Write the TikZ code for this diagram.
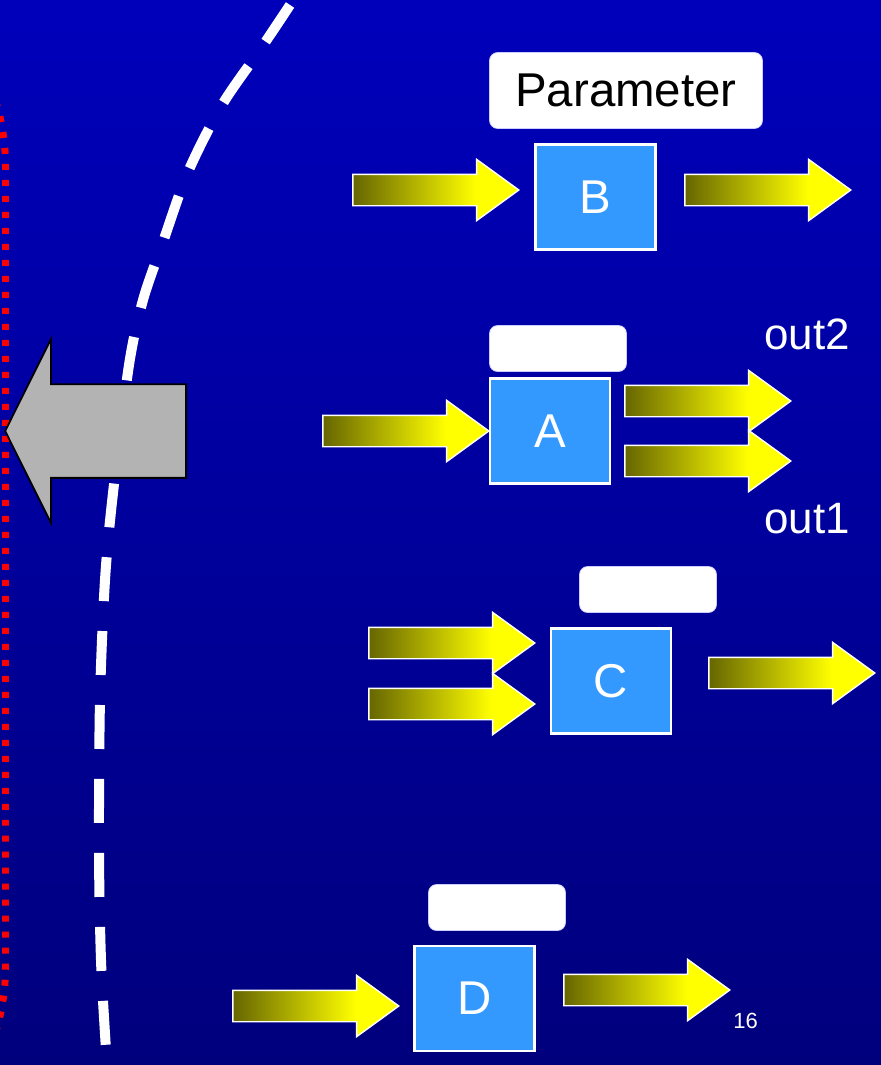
\documentclass[tikz,border=0pt]{standalone}
\usepackage{fontspec}
\setmainfont{Liberation Sans}
\usetikzlibrary{shapes.arrows,positioning}
\definecolor{slideblue}{HTML}{0000BB}
\definecolor{slidenavy}{HTML}{00007D}
\definecolor{boxblue}{HTML}{3399FF}
\definecolor{olivedark}{HTML}{666600}
\definecolor{arrowgray}{HTML}{B3B3B3}
\pgfdeclarehorizontalshading{flowshade}{100bp}{color(0bp)=(olivedark); color(25bp)=(olivedark); color(62bp)=(yellow); color(100bp)=(yellow)}
\newcommand{\boxfont}{\fontsize{27}{32}\selectfont}
\newcommand{\outfont}{\fontsize{25}{30}\selectfont}
\newcommand{\pagefont}{\fontsize{12.5}{15}\selectfont}

\begin{document}
\begin{tikzpicture}[
  x=0.02cm, y=-0.02cm,
  block/.style={draw=white, line width=1.2pt, fill=boxblue, minimum width=2.4cm, minimum height=2.1cm, inner sep=0pt, text=white, font=\boxfont},
  tag/.style={fill=white, draw=white!80!blue, rounded corners=0.16cm, minimum width=2.74cm, minimum height=0.92cm, inner sep=0pt, font=\boxfont},
  flow/.style={single arrow, single arrow head extend=0.3cm, single arrow tip angle=72, inner xsep=0pt, inner ysep=0.3cm, minimum height=3.32cm, draw=white, line width=0.8pt, shading=flowshade, anchor=tip},
  outlbl/.style={text=white, font=\outfont, anchor=base west, inner sep=0pt}
]
% slide frame
\useasboundingbox (0,0) rectangle (881,1065);
\clip (0,0) rectangle (881,1065);
\shade[top color=slideblue, bottom color=slidenavy] (0,0) rectangle (881,1065);

% red dotted outline, mostly off the slide
\draw[red, line width=0.14cm, dash pattern=on 0.12cm off 0.2cm, rounded corners=4.36cm]
  (-400,-52) -- (5.5,-52) -- (5.5,1185) -- (-400,1185);

% white dashed boundary
\draw[white, line width=0.2cm, dash pattern=on 0.88cm off 0.6cm, dash phase=1.12cm]
  plot[smooth] coordinates {(300,-10) (262,47) (222,105) (188,172) (163,242) (143,300) (129,365) (113,493) (105,580) (100,700) (99,850) (101,960) (106,1050) (108,1080)};

% big grey arrow
\node[single arrow, shape border rotate=180, single arrow head extend=0.9cm, single arrow tip angle=127,
  inner xsep=0pt, inner ysep=0.92cm, minimum height=3.62cm, fill=arrowgray, draw=black, line width=1pt,
  anchor=tail] (back) at (187,431) {};

% blocks
\node[block] (B) at (595.5,197) {B};
\node[block] (A) at (550,431) {A};
\node[block] (C) at (611,681) {C};
\node[block] (D) at (474.5,998.5) {D};

% tags
\node[tag, minimum width=5.46cm, minimum height=1.52cm] (parB) at (626,90.5) {Parameter};
\node[tag] (parA) at (558,348.5) {};
\node[tag] (parC) at (648,589.5) {};
\node[tag] (parD) at (497,907.5) {};

% flow arrows
\node[flow] (inB) at (520,190) {};
\node[flow] (outB) at (852,190) {};
\node[flow] (inA) at (490,431) {};
\node[flow] (outAtwo) at (792,401) {};
\node[flow] (outAone) at (792,461) {};
\node[flow] (inCone) at (536,643) {};
\node[flow] (inCtwo) at (536,704) {};
\node[flow] (outC) at (876,673) {};
\node[flow] (inD) at (400,1006) {};
\node[flow] (outD) at (731,990) {};

% labels
\node[outlbl] (lbltwo) at (764,349) {out2};
\node[outlbl] (lblone) at (764,533) {out1};
\node[outlbl, font=\pagefont] (pagenum) at (733,1028) {16};
\end{tikzpicture}
\end{document}
